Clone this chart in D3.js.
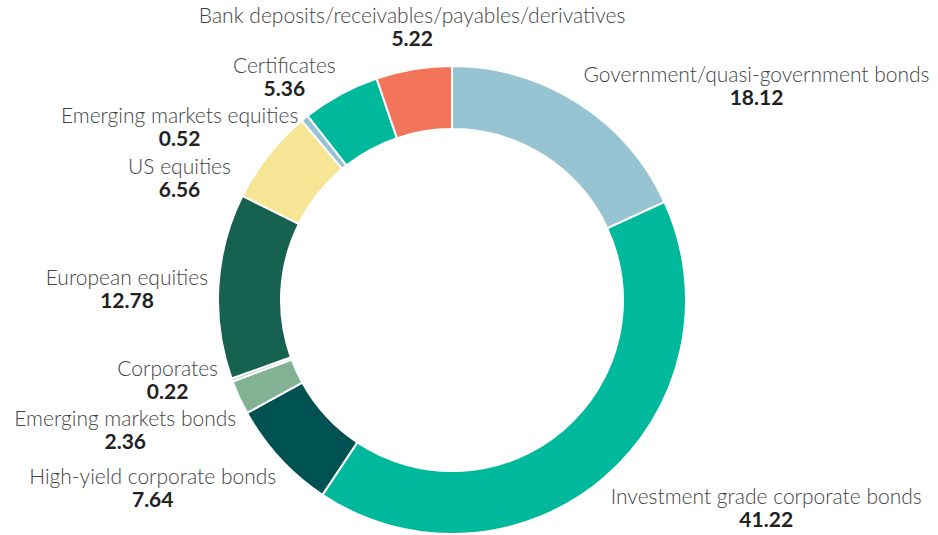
<!DOCTYPE html>
<html>
<head>
<meta charset="utf-8">
<script src="https://cdn.jsdelivr.net/npm/d3@7"></script>
<style>
  html, body { margin: 0; padding: 0; background: #fff; }
  #chart { width: 938px; height: 535px; }
  text { font-family: Lato, "Open Sans", sans-serif; }
  .name { font-size: 21px; font-weight: 300; fill: #444; }
  .val { font-size: 21px; font-weight: 700; fill: #222; }
</style>
</head>
<body>
<div id="chart"></div>
<script>
var categories = [
  'Government/quasi-government bonds',
  'Investment grade corporate bonds',
  'High-yield corporate bonds',
  'Emerging markets bonds',
  'Corporates',
  'European equities',
  'US equities',
  'Emerging markets equities',
  'Certificates',
  'Bank deposits/receivables/payables/derivatives'
];
var values = [18.12, 41.22, 7.64, 2.36, 0.22, 12.78, 6.56, 0.52, 5.36, 5.22];
var colors = ['#97c4d3', '#00b89c', '#005151', '#82b293', '#a9d8c2',
              '#176151', '#f6e594', '#97c4d3', '#00b89c', '#f37559'];

var width = 938,
    height = 535,
    cx = 452,
    cy = 300,
    outerR = 234,
    innerR = 171,
    labelR = 244,
    labelShift = 4,
    lineGap = 23,
    capH = 15,
    pad = 12;

var data = categories.map(function(c, i) { return { name: c, value: values[i], color: colors[i] }; });

var svg = d3.select('#chart').append('svg')
  .attr('width', width)
  .attr('height', height);

var g = svg.append('g').attr('transform', 'translate(' + cx + ',' + cy + ')');

var pie = d3.pie().sort(null).value(function(d) { return d.value; });
var arcs = pie(data);
var arc = d3.arc().innerRadius(innerR).outerRadius(outerR);

g.selectAll('path.slice')
  .data(arcs)
  .join('path')
  .attr('class', 'slice')
  .attr('d', arc)
  .attr('fill', function(d) { return d.data.color; })
  .attr('stroke', '#fff')
  .attr('stroke-width', 2);

// labels: name + bold value, placed outside the ring
var lbl = g.selectAll('g.lbl')
  .data(arcs)
  .join('g')
  .attr('class', 'lbl');

lbl.append('text')
  .attr('class', 'name')
  .attr('text-anchor', 'middle')
  .text(function(d) { return d.data.name; });

lbl.append('text')
  .attr('class', 'val')
  .attr('text-anchor', 'middle')
  .attr('y', lineGap)
  .text(function(d) { return d.data.value.toFixed(2); });

// box = cap top of the name down to the baseline of the value
lbl.each(function(d) {
  var b = this.getBBox();
  d.w = b.width; d.h = lineGap + capH;
  d.theta = (d.startAngle + d.endAngle) / 2;
  d.dy = labelShift;
});

function smooth(v) {
  return Math.sign(v) * Math.max(0, Math.min(1, (Math.abs(v) - 0.2) / 0.25));
}

function place(d) {
  var s = Math.sin(d.theta), c = Math.cos(d.theta);
  var py = -labelR * c + d.dy,
      px = labelR * s;
  // side labels slide along the circle when pushed up or down
  if (Math.abs(s) > 0.7) px = Math.sign(s) * Math.sqrt(Math.max(0, labelR * labelR - py * py));
  var x = px + smooth(s) * d.w / 2,
      y = py - smooth(c) * d.h / 2;
  x = Math.max(-cx + d.w / 2 + 4, Math.min(width - cx - d.w / 2 - 4, x));
  var top = 8 - cy, bottom = height - 4 - cy;
  if (y - d.h / 2 < top) { d.dy += top - (y - d.h / 2); y = top + d.h / 2; }
  if (y + d.h / 2 > bottom) { d.dy -= (y + d.h / 2) - bottom; y = bottom - d.h / 2; }
  d.box = { cx: x, cy: y, x0: x - d.w / 2, x1: x + d.w / 2, y0: y - d.h / 2, y1: y + d.h / 2 };
}

function overlap(a, b) {
  return a.x0 < b.x1 + pad && b.x0 < a.x1 + pad && a.y0 < b.y1 + pad && b.y0 < a.y1 + pad;
}

// push overlapping labels apart vertically, narrow labels move more
arcs.forEach(place);
for (var it = 0; it < 1500; it++) {
  var moved = false;
  for (var i = 0; i < arcs.length; i++) {
    for (var j = i + 1; j < arcs.length; j++) {
      var a = arcs[i], b = arcs[j];
      if (!overlap(a.box, b.box)) continue;
      var up = a.box.cy <= b.box.cy ? a : b,
          dn = up === a ? b : a,
          tot = a.w + b.w;
      up.dy -= 0.5 * dn.w / tot;
      dn.dy += 0.5 * up.w / tot;
      place(up); place(dn);
      moved = true;
    }
  }
  if (!moved) break;
}

lbl.attr('transform', function(d) {
  return 'translate(' + d.box.cx + ',' + (d.box.y0 + capH) + ')';
});
</script>
</body>
</html>
